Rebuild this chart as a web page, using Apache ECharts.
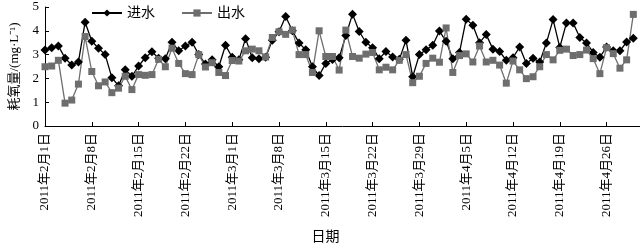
<!DOCTYPE html>
<html>
<head>
<meta charset="utf-8">
<script src="https://cdn.jsdelivr.net/npm/echarts@6/dist/echarts.min.js"></script>
<style>
  html, body { margin: 0; padding: 0; background: #fff; }
  #chart { width: 640px; height: 249px; }
</style>
</head>
<body>
<div id="chart"></div>
<script>
// 日期: 2011年2月1日 ~ 5月1日 (数据到4月30日)
const monthDays = [[2, 28], [3, 31], [4, 30], [5, 1]];
const dates = [];
monthDays.forEach(function (m) {
  for (let d = 1; d <= m[1]; d++) dates.push('2011年' + m[0] + '月' + d + '日');
});

// 进水 耗氧量 (mg/L)
const inflow = [
  3.19, 3.29, 3.36, 2.85, 2.56, 2.69, 4.36, 3.56, 3.27, 3.00,
  2.03, 1.69, 2.36, 2.09, 2.52, 2.87, 3.12, 2.85, 2.83, 3.52,
  3.16, 3.36, 3.52, 3.00, 2.60, 2.78, 2.49, 3.39, 2.89, 2.78,
  3.67, 2.87, 2.83, 2.89, 3.60, 3.96, 4.60, 4.00, 3.49, 3.20,
  2.49, 2.12, 2.63, 2.79, 2.87, 3.80, 4.70, 3.97, 3.52, 3.29,
  2.83, 3.13, 2.90, 2.80, 3.60, 2.07, 3.00, 3.20, 3.39, 3.99,
  3.56, 2.83, 3.09, 4.49, 4.23, 3.50, 3.84, 3.23, 3.13, 2.76,
  2.87, 3.32, 2.63, 2.85, 2.69, 3.49, 4.47, 3.30, 4.33, 4.33,
  3.72, 3.49, 3.09, 2.89, 3.32, 3.16, 3.16, 3.53, 3.69
];

// 出水 耗氧量 (mg/L)
const outflow = [
  2.49, 2.52, 2.76, 0.96, 1.09, 1.76, 3.76, 2.29, 1.69, 1.85,
  1.40, 1.59, 2.09, 1.53, 2.16, 2.13, 2.16, 2.80, 2.49, 3.27,
  2.63, 2.20, 2.16, 3.00, 2.48, 2.66, 2.25, 2.12, 2.75, 2.73,
  3.16, 3.23, 3.16, 2.90, 3.72, 3.96, 3.85, 4.03, 3.00, 3.00,
  2.25, 4.00, 2.92, 2.92, 2.35, 4.03, 2.92, 2.85, 3.02, 3.09,
  2.36, 2.47, 2.36, 2.76, 3.00, 1.82, 2.09, 2.63, 2.85, 2.68,
  4.12, 2.25, 2.96, 3.03, 2.69, 3.36, 2.69, 2.76, 2.56, 1.80,
  2.73, 2.36, 1.99, 2.07, 2.49, 3.00, 2.78, 3.18, 3.23, 2.96,
  3.00, 3.19, 2.83, 2.20, 3.29, 3.04, 2.43, 2.78, 4.69
];

const serif = '"Liberation Serif", "Noto Sans CJK SC", serif';

const chart = echarts.init(document.getElementById('chart'));
chart.setOption({
  animation: false,
  textStyle: { fontFamily: serif, color: '#000' },
  legend: {
    left: 86,
    top: 1,
    itemWidth: 30,
    itemHeight: 9,
    itemGap: 26,
    textStyle: { fontSize: 14, color: '#000', fontFamily: serif },
    data: ['进水', '出水']
  },
  grid: { left: 41, right: 0, top: 7, bottom: 117 },
  xAxis: {
    type: 'category',
    data: dates,
    boundaryGap: false,
    name: '日期',
    nameLocation: 'middle',
    nameGap: 104,
    nameTextStyle: { fontSize: 14, color: '#000', padding: [0, 34, 0, 0] },
    axisLine: { lineStyle: { color: '#000', width: 1 } },
    axisTick: { inside: true, length: 4, interval: 6, lineStyle: { color: '#000' } },
    axisLabel: { interval: 6, rotate: 90, margin: 7, fontSize: 13, color: '#000', fontFamily: serif },
    splitLine: { show: false }
  },
  yAxis: {
    type: 'value',
    min: 0,
    max: 5,
    interval: 1,
    name: '耗氧量/(mg·L⁻¹)',
    nameLocation: 'middle',
    nameGap: 24,
    nameTextStyle: { fontSize: 13, color: '#000' },
    axisLine: { show: true, lineStyle: { color: '#000', width: 1 } },
    axisTick: { show: true, inside: true, length: 4, lineStyle: { color: '#000' } },
    axisLabel: { margin: 6, fontSize: 13, color: '#000', fontFamily: serif },
    splitLine: { show: false }
  },
  series: [
    {
      name: '进水',
      type: 'line',
      data: inflow,
      symbol: 'diamond',
      symbolSize: 9,
      showAllSymbol: true,
      itemStyle: { color: '#000' },
      lineStyle: { color: '#000', width: 1.3 }
    },
    {
      name: '出水',
      type: 'line',
      data: outflow,
      symbol: 'rect',
      symbolSize: 7,
      showAllSymbol: true,
      itemStyle: { color: '#6e6e6e' },
      lineStyle: { color: '#6e6e6e', width: 1.3 }
    }
  ]
});
</script>
</body>
</html>
